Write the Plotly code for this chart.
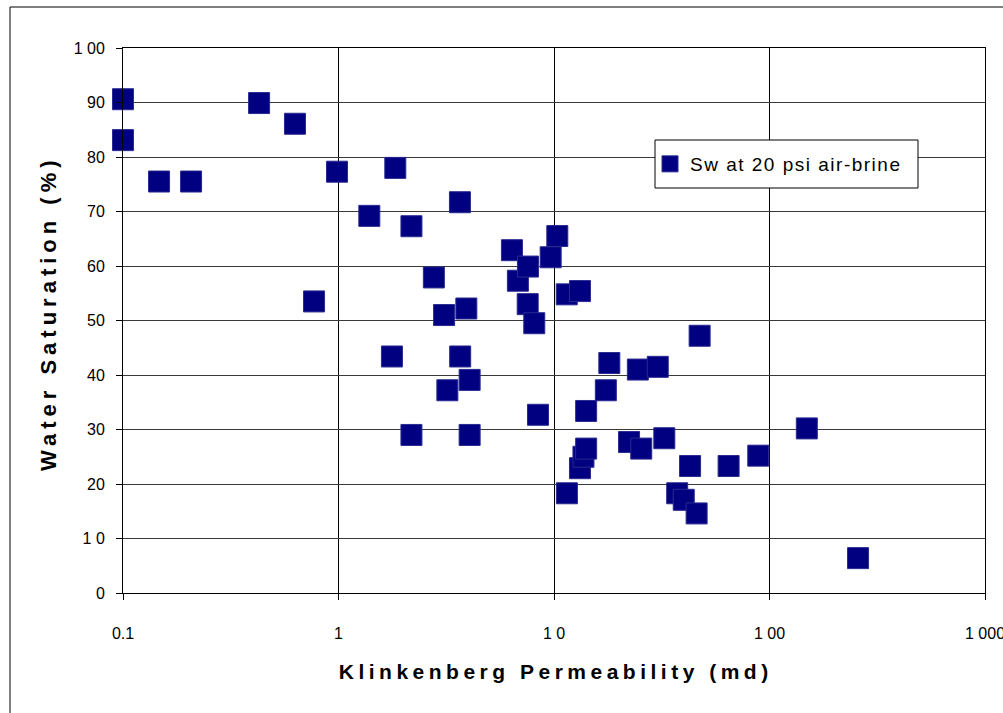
import plotly.graph_objects as go

# Klinkenberg permeability (md) and water saturation (%)
perm = [0.1, 0.1, 0.147, 0.207, 0.428, 0.628, 0.77, 0.984, 1.39, 1.77,
        1.835, 2.18, 2.18, 2.77, 3.09, 3.2, 3.66, 3.67, 3.92, 4.06,
        4.06, 6.38, 6.8, 7.55, 7.57, 8.1, 8.43, 9.65, 10.36, 11.46,
        11.48, 13.2, 13.2, 13.7, 14.1, 14.1, 17.4, 18.06, 22.3, 24.5,
        25.4, 30.3, 32.5, 37.3, 40.0, 42.8, 45.9, 47.4, 64.6, 88.7,
        149.0, 257.6]
sw = [90.6, 83.1, 75.5, 75.5, 89.9, 86.1, 53.5, 77.3, 69.2, 43.4,
      78.0, 67.3, 29.0, 57.9, 51.0, 37.2, 71.7, 43.4, 52.2, 39.1,
      29.0, 62.9, 57.3, 53.0, 59.9, 49.5, 32.7, 61.6, 65.5, 54.8,
      18.3, 55.4, 22.9, 25.0, 26.5, 33.4, 37.2, 42.2, 27.7, 41.0,
      26.5, 41.5, 28.4, 18.3, 17.1, 23.3, 14.6, 47.2, 23.3, 25.2,
      30.2, 6.4]

series_name = "Sw at 20 psi air-brine"
x_title = "Klinkenberg Permeability (md)"
y_title = "Water Saturation (%)"
x_tickvals = [0.1, 1, 10, 100, 1000]
x_ticktext = ["0.1", "1", "1 0", "1 00", "1 000"]
y_tickvals = [0, 10, 20, 30, 40, 50, 60, 70, 80, 90, 100]
y_ticktext = ["0", "1 0", "20", "30", "40", "50", "60", "70", "80", "90", "1 00"]

W, H = 1003, 713
L, R, T, B = 123, 18, 48, 120
PW, PH = W - L - R, H - T - B


def px(xp):
    return (xp - L) / PW


def py(yp):
    return (H - B - yp) / PH


fig = go.Figure()
fig.add_trace(go.Scatter(
    x=perm, y=sw, mode="markers", name=series_name,
    marker=dict(symbol="square", size=21, color="#000080",
                line=dict(color="#2a2a90", width=1)),
    cliponaxis=False, hoverinfo="skip"))

font_family = "Liberation Sans, Arial, sans-serif"

fig.update_layout(
    width=W, height=H,
    margin=dict(l=L, r=R, t=T, b=B, autoexpand=False),
    paper_bgcolor="white", plot_bgcolor="white",
    font=dict(family=font_family, color="black", size=16),
    showlegend=True,
    legend=dict(x=px(650), y=py(164), xanchor="left", yanchor="middle",
                bgcolor="rgba(0,0,0,0)", borderwidth=0,
                font=dict(size=19, family=font_family, color="black"),
                itemsizing="trace"),
    xaxis=dict(type="log", range=[-1, 3.00002], tickvals=x_tickvals, ticktext=x_ticktext,
               showgrid=True, gridcolor="black", gridwidth=1,
               showline=True, linecolor="black", linewidth=1, mirror=True,
               ticks="outside", ticklen=6, tickcolor="black",
               ticklabelstandoff=20, ticklabeloverflow="allow", zeroline=False,
               automargin=False, tickfont=dict(size=16)),
    yaxis=dict(range=[0, 100], tickvals=y_tickvals, ticktext=y_ticktext,
               showgrid=True, gridcolor="#3a3a3a", gridwidth=1,
               showline=True, linecolor="black", linewidth=1, mirror=True,
               ticks="outside", ticklen=6, tickcolor="black",
               ticklabelstandoff=8, zeroline=False,
               automargin=False, tickfont=dict(size=16)),
    annotations=[
        dict(text="<b>" + x_title + "</b>", xref="paper", yref="paper",
             x=px(555), y=py(671), xanchor="center", yanchor="middle",
             showarrow=False,
             font=dict(size=21, family=font_family, color="black")),
        dict(text="<b>" + y_title + "</b>", xref="paper", yref="paper",
             x=px(48), y=py(313), xanchor="center", yanchor="middle",
             showarrow=False, textangle=-90,
             font=dict(size=22, family=font_family, color="black")),
    ],
    shapes=[
        dict(type="rect", xref="paper", yref="paper",
             x0=px(10), x1=px(1010), y0=py(720), y1=py(7),
             line=dict(color="black", width=1), layer="below"),
        dict(type="rect", xref="paper", yref="paper",
             x0=px(655), x1=px(918), y0=py(188), y1=py(140),
             line=dict(color="black", width=1), fillcolor="white", layer="above"),
    ],
)

post = """
document.body.style.margin='0';
document.body.style.overflow='hidden';
function spacing(){
  var a = document.querySelectorAll('.annotation-text');
  if (a.length > 0) a[0].style.letterSpacing='4.5px';
  if (a.length > 1) a[1].style.letterSpacing='5px';
  document.querySelectorAll('.legendtext').forEach(function(e){ e.style.letterSpacing='1.5px'; });
}
spacing();
var gd = document.getElementById('{plot_id}');
Plotly.relayout(gd, {width: 1003, height: 713}).then(spacing);
"""
fig.write_html("out.html", post_script=post, config={"displayModeBar": False})
